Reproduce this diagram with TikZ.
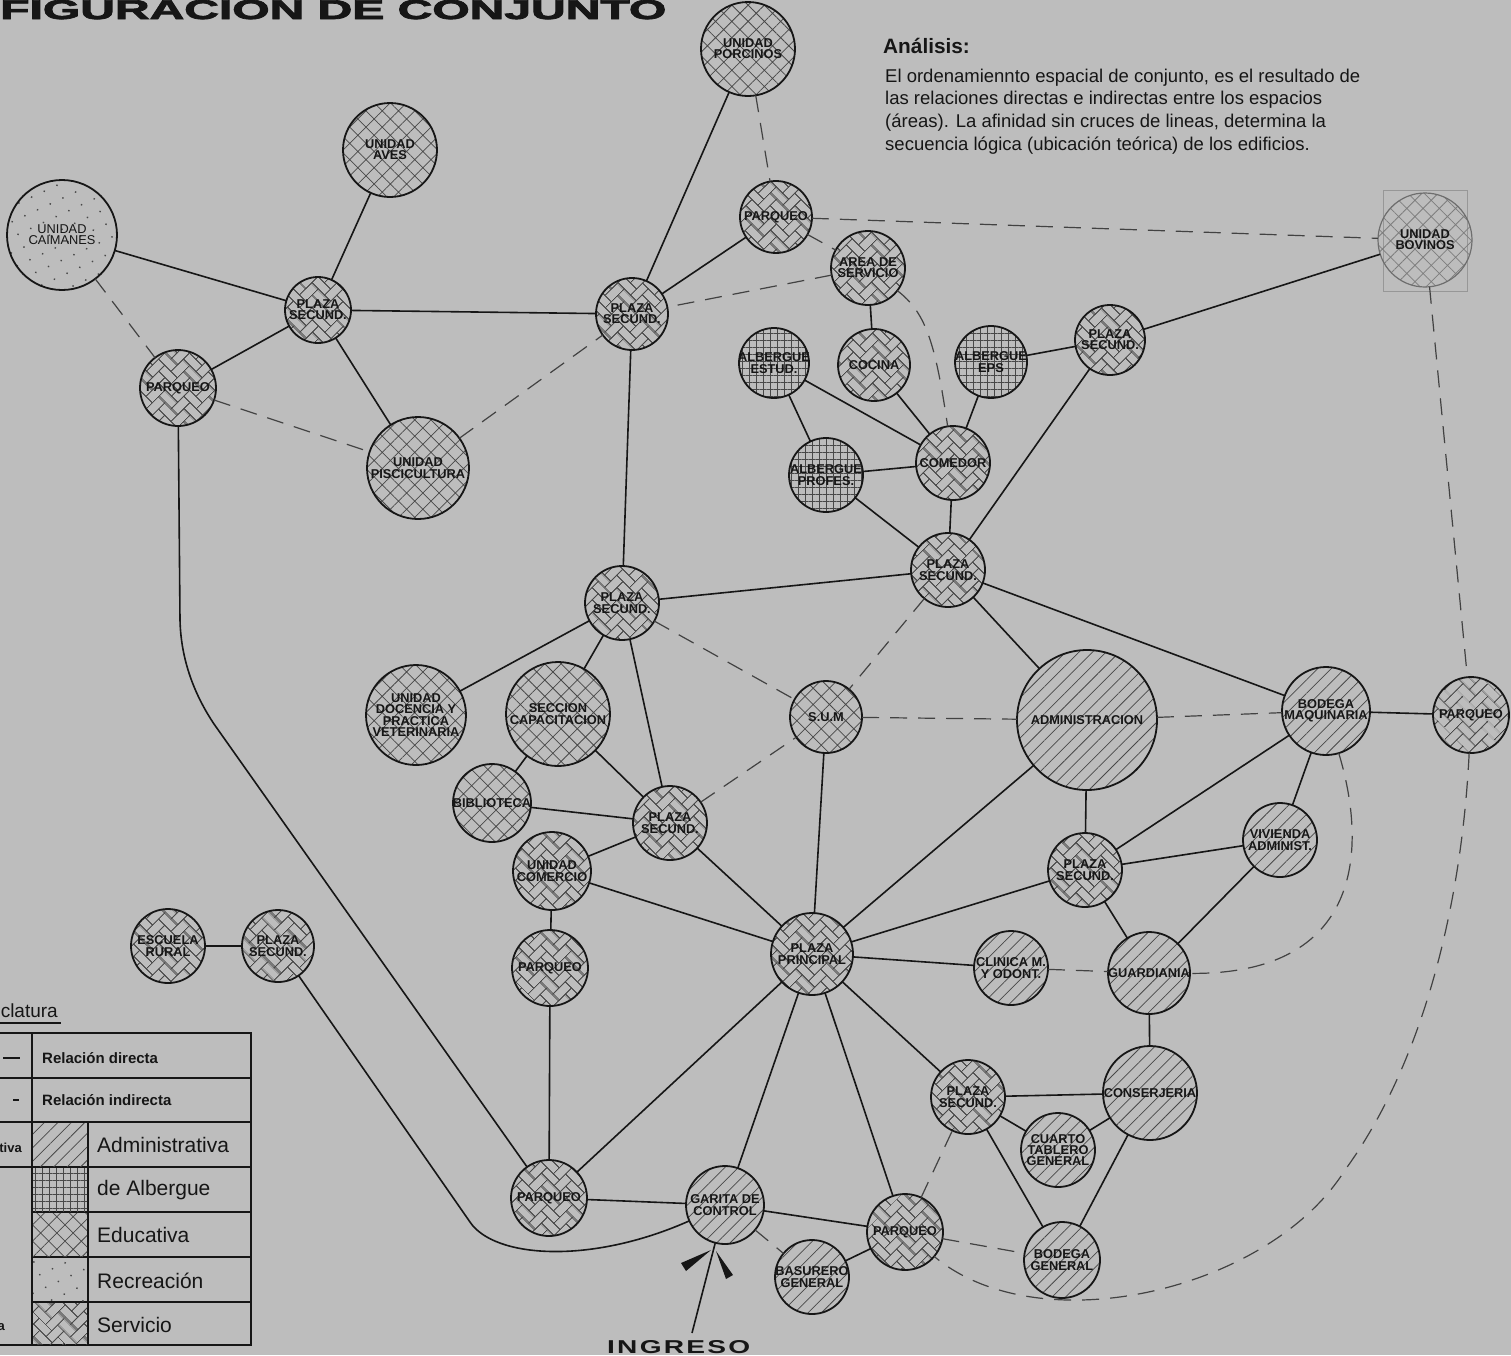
\documentclass[tikz,border=0pt]{standalone}
\usepackage{fontspec}
\setmainfont{Liberation Sans}
\newfontfamily\heavyfont{Liberation Sans Bold}[FakeBold=2.5]
\usepackage{graphicx}
\usetikzlibrary{patterns.meta}

\definecolor{paper}{RGB}{189,189,189}
\definecolor{ink}{RGB}{22,22,22}
\definecolor{hatchc}{RGB}{72,72,72}
\definecolor{dashc}{RGB}{66,66,66}
\definecolor{fadeink}{RGB}{110,110,110}
\definecolor{fadehatch}{RGB}{125,125,125}

% herringbone tile for the "Servicio" zones
\tikzdeclarepattern{
  name=herring,
  type=uncolored,
  bottom left={(0pt,0pt)},
  top right={(36pt,36pt)},
  tile size={(36pt,36pt)},
  tile transformation={rotate=45},
  code={
    \tikzset{x=9pt,y=9pt}
    \foreach \s in {-4,0,4}{
      \foreach \k in {-4,...,4}{
        \draw[line width=0.75pt] (\k+\s,\k) rectangle ++(2,1);
        \draw[line width=0.75pt] (\k+\s+2,\k-1) rectangle ++(1,2);
      }
    }
  }
}

\tikzset{
  unit/.style={circle, draw=ink, line width=1.8pt, inner sep=0pt, outer sep=0pt},
  padm/.style={pattern={Lines[angle=45,distance=9.5pt,line width=0.75pt]}, pattern color=hatchc},
  palb/.style={pattern={Hatch[angle=0,distance=7pt,line width=0.7pt]}, pattern color=hatchc},
  pedu/.style={pattern={Hatch[angle=45,distance=11.5pt,line width=0.75pt]}, pattern color=hatchc},
  prec/.style={pattern={Dots[angle=25,distance=14pt,radius=1pt]}, pattern color=hatchc},
  pser/.style={pattern=herring, pattern color=hatchc},
  lbl/.style={font=\fontsize{12.8}{11.3}\selectfont\bfseries, align=center, text=ink, inner sep=0pt},
  direct/.style={draw=ink, line width=1.6pt},
  indirect/.style={draw=dashc, line width=1.2pt, dash pattern=on 17pt off 11pt},
  legline/.style={draw=ink, line width=1.1pt},
}

% #1 name, #2 x, #3 y, #4 diameter, #5 zone style, #6 label
\newcommand\unitnode[6]{%
  \node[unit,#5,minimum size=#4pt] (#1) at (#2,#3) {};
  \node[lbl] (#1t) at (#1.center) {#6};
}

\begin{document}
\begin{tikzpicture}[x=1pt,y=-1pt]
\fill[paper] (0,0) rectangle (1511,1355);
\useasboundingbox (0,0) rectangle (1511,1355);

% ---------- headings ----------
\node[anchor=base west, inner sep=0pt, text=ink] (title) at (0,19)
  {\resizebox{666pt}{19pt}{\heavyfont FIGURACION DE CONJUNTO}};
\node[anchor=base west, inner sep=0pt, text=ink,
      font=\fontsize{20.8}{24}\selectfont\bfseries] (head) at (883,53) {Análisis:};
\node[anchor=base west, inner sep=0pt, text=ink,
      font=\fontsize{18.5}{22.7}\selectfont] (para) at (885,82)
  {\begin{tabular}[t]{@{}l@{}}
   El ordenamiennto espacial de conjunto, es el resultado de\\
   las relaciones directas e indirectas entre los espacios\\
   (áreas). La afinidad sin cruces de lineas, determina la\\
   secuencia lógica (ubicación teórica) de los edificios.
   \end{tabular}};

% ---------- zones ----------
\unitnode{pork}{748}{49}{94}{pedu}{UNIDAD\\PORCINOS}
\unitnode{aves}{390}{150}{94}{pedu}{UNIDAD\\AVES}
\unitnode{caim}{62}{235}{110}{prec}{\mdseries UNIDAD\\\mdseries CAIMANES}
\unitnode{plA}{318}{310}{66}{pser}{PLAZA\\SECUND.}
\unitnode{pqA}{178}{388}{76}{pser}{PARQUEO}
\unitnode{pisc}{418}{468}{102}{pedu}{UNIDAD\\PISCICULTURA}
\unitnode{pqB}{776}{217}{72}{pser}{PARQUEO}
\unitnode{area}{868}{268}{74}{pser}{AREA DE\\SERVICIO}
\unitnode{plB}{632}{314}{72}{pser}{PLAZA\\SECUND.}
\draw[fadehatch!60!paper, line width=0.8pt] (1383,190) rectangle (1467,291);
\unitnode{bov}{1425}{240}{94}{pedu, draw=fadeink, line width=1.2pt, pattern color=fadehatch}{UNIDAD\\BOVINOS}
\unitnode{albE}{774}{363}{70}{palb}{ALBERGUE\\ESTUD.}
\unitnode{coc}{874}{365}{72}{pser}{COCINA}
\unitnode{albS}{991}{362}{72}{palb}{ALBERGUE\\EPS}
\unitnode{plC}{1110}{340}{70}{pser}{PLAZA\\SECUND.}
\unitnode{com}{953}{463}{74}{pser}{COMEDOR}
\unitnode{albP}{826}{475}{74}{palb}{ALBERGUE\\PROFES.}
\unitnode{plD}{948}{570}{74}{pser}{PLAZA\\SECUND.}
\unitnode{plE}{622}{603}{74}{pser}{PLAZA\\SECUND.}
\unitnode{doc}{416}{715}{100}{pedu}{UNIDAD\\DOCENCIA Y\\PRACTICA\\VETERINARIA}
\unitnode{sec}{558}{714}{104}{pedu}{SECCION\\CAPACITACION}
\unitnode{sum}{826}{717}{72}{pedu}{S.U.M}
\unitnode{adm}{1087}{720}{140}{padm}{ADMINISTRACION}
\unitnode{bmaq}{1326}{711}{88}{padm}{BODEGA\\MAQUINARIA}
\unitnode{pqR}{1471}{715}{76}{pser}{PARQUEO}
\unitnode{bib}{492}{803}{78}{pedu}{BIBLIOTECA}
\unitnode{plF}{670}{823}{74}{pser}{PLAZA\\SECUND.}
\unitnode{ucom}{552}{871}{78}{pser}{UNIDAD\\COMERCIO}
\unitnode{viv}{1280}{840}{74}{padm}{VIVIENDA\\ADMINIST.}
\unitnode{plG}{1085}{870}{74}{pser}{PLAZA\\SECUND.}
\unitnode{esc}{168}{946}{74}{pser}{ESCUELA\\RURAL}
\unitnode{plH}{278}{946}{72}{pser}{PLAZA\\SECUND.}
\unitnode{pqC}{550}{968}{76}{pser}{PARQUEO}
\unitnode{plP}{812}{954}{82}{pser}{PLAZA\\PRINCIPAL}
\unitnode{cli}{1011}{968}{74}{padm}{CLINICA M.\\Y ODONT.}
\unitnode{gua}{1149}{973}{82}{padm}{GUARDIANIA}
\unitnode{plI}{968}{1097}{74}{pser}{PLAZA\\SECUND.}
\unitnode{con}{1150}{1093}{94}{padm}{CONSERJERIA}
\unitnode{cua}{1058}{1150}{74}{padm}{CUARTO\\TABLERO\\GENERAL}
\unitnode{pqD}{549}{1198}{76}{pser}{PARQUEO}
\unitnode{gar}{725}{1205}{78}{padm}{GARITA DE\\CONTROL}
\unitnode{pqE}{905}{1232}{76}{pser}{PARQUEO}
\unitnode{bas}{812}{1277}{74}{padm}{BASURERO\\GENERAL}
\unitnode{bgen}{1062}{1260}{76}{padm}{BODEGA\\GENERAL}

% ---------- direct relations ----------
\draw[direct] (caim) -- (plA);
\draw[direct] (aves) -- (plA);
\draw[direct] (plA) -- (pqA);
\draw[direct] (plA) -- (pisc);
\draw[direct] (plA) -- (plB);
\draw[direct] (pork) -- (plB);
\draw[direct] (pqB) -- (plB);
\draw[direct] (plB) -- (plE);
\draw[direct] (coc) -- (area);
\draw[direct] (coc) -- (com);
\draw[direct] (albE) -- (albP);
\draw[direct] (albE) -- (com);
\draw[direct] (albS) -- (com);
\draw[direct] (albS) -- (plC);
\draw[direct] (plC) -- (bov);
\draw[direct] (plC) -- (plD);
\draw[direct] (albP) -- (com);
\draw[direct] (albP) -- (plD);
\draw[direct] (com) -- (plD);
\draw[direct] (plE) -- (doc);
\draw[direct] (plE) -- (sec);
\draw[direct] (plE) -- (plF);
\draw[direct] (plE) -- (plD);
\draw[direct] (plD) -- (adm);
\draw[direct] (plD) -- (bmaq);
\draw[direct] (sec) -- (bib);
\draw[direct] (sec) -- (plF);
\draw[direct] (bib) -- (plF);
\draw[direct] (plF) -- (ucom);
\draw[direct] (plF) -- (plP);
\draw[direct] (ucom) -- (plP);
\draw[direct] (ucom) -- (pqC);
\draw[direct] (pqC) -- (pqD);
\draw[direct] (sum) -- (plP);
\draw[direct] (plP) -- (adm);
\draw[direct] (plP) -- (plG);
\draw[direct] (plP) -- (cli);
\draw[direct] (plP) -- (plI);
\draw[direct] (plP) -- (pqE);
\draw[direct] (plP) -- (gar);
\draw[direct] (plP) -- (pqD);
\draw[direct] (adm) -- (plG);
\draw[direct] (plG) -- (bmaq);
\draw[direct] (plG) -- (viv);
\draw[direct] (plG) -- (gua);
\draw[direct] (viv) -- (gua);
\draw[direct] (viv) -- (bmaq);
\draw[direct] (bmaq) -- (pqR);
\draw[direct] (gua) -- (con);
\draw[direct] (plI) -- (con);
\draw[direct] (plI) -- (cua);
\draw[direct] (plI) -- (bgen);
\draw[direct] (cua) -- (con);
\draw[direct] (con) -- (bgen);
\draw[direct] (pqD) -- (gar);
\draw[direct] (gar) -- (pqE);
\draw[direct] (pqE) -- (bas);
\draw[direct] (esc) -- (plH);
\draw[direct] (pqA) -- (180,620) .. controls (181,665) and (198,700) .. (214,724) -- (pqD);
\draw[direct] (plH) -- (470,1222) .. controls (494,1258) and (590,1265) .. (gar);

% ---------- indirect relations ----------
\draw[indirect] (caim) -- (pqA);
\draw[indirect] (pqA) -- (pisc);
\draw[indirect] (pisc) -- (plB);
\draw[indirect] (pork) -- (pqB);
\draw[indirect] (pqB) -- (area);
\draw[indirect] (pqB) -- (bov);
\draw[indirect] (area) -- (plB);
\draw[indirect] (area) .. controls (925,312) and (935,340) .. (com);
\draw[indirect] (plE) -- (sum);
\draw[indirect] (plF) -- (sum);
\draw[indirect] (plD) -- (sum);
\draw[indirect] (sum) -- (adm);
\draw[indirect] (adm) -- (bmaq);
\draw[indirect] (bmaq) .. controls (1368,850) and (1362,975) .. (gua);
\draw[indirect] (cli) -- (gua);
\draw[indirect] (bov) -- (pqR);
\draw[indirect] (pqR) .. controls (1462,900) and (1425,1060) .. (1345,1170)
                     .. controls (1270,1290) and (1040,1345) .. (pqE);
\draw[indirect] (pqE) -- (bgen);
\draw[indirect] (pqE) -- (plI);
\draw[indirect] (gar) -- (bas);

% ---------- entrance ----------
\coordinate (ing) at (692,1333);
\draw[direct] (ing) -- (gar);
\fill[ink] (711,1250) -- (681,1263) -- (686,1271) -- cycle;
\fill[ink] (716,1251) -- (726,1279) -- (733,1275) -- cycle;
\node[anchor=base west, inner sep=0pt, text=ink] (ingreso) at (607,1353)
  {\resizebox{143pt}{13pt}{\addfontfeatures{LetterSpace=8}\bfseries INGRESO}};

% ---------- legend ----------
\node[anchor=base east, inner sep=0pt, text=ink, font=\fontsize{19}{20}\selectfont] (legt) at (58,1017) {clatura};
\draw[legline] (-2,1023) -- (61,1023);
\draw[legline] (-5,1033) rectangle (251,1345);
\draw[legline] (32,1033) -- (32,1345);
\draw[legline] (88,1122) -- (88,1345);
\draw[legline] (-5,1078) -- (251,1078);
\draw[legline] (-5,1122) -- (251,1122);
\draw[legline] (-5,1167) -- (251,1167);
\draw[legline] (32,1212) -- (251,1212);
\draw[legline] (32,1257) -- (251,1257);
\draw[legline] (32,1302) -- (251,1302);
\draw[direct] (3,1058) -- (20,1058);
\draw[direct] (13,1100) -- (19,1100);
\path[padm] (33,1123) rectangle (87,1166);
\path[palb] (33,1168) rectangle (87,1211);
\path[pedu] (33,1213) rectangle (87,1256);
\path[prec] (33,1258) rectangle (87,1301);
\path[pser] (33,1303) rectangle (87,1344);
\begin{scope}[every node/.style={anchor=base west, inner sep=0pt, text=ink}]
  \node[font=\fontsize{15}{15}\selectfont\bfseries] (lg1) at (42,1063) {Relación directa};
  \node[font=\fontsize{15}{15}\selectfont\bfseries] (lg2) at (42,1105) {Relación indirecta};
  \node[font=\fontsize{21}{21}\selectfont] (lg3) at (97,1152) {Administrativa};
  \node[font=\fontsize{21}{21}\selectfont] (lg4) at (97,1195) {de Albergue};
  \node[font=\fontsize{21}{21}\selectfont] (lg5) at (97,1242) {Educativa};
  \node[font=\fontsize{21}{21}\selectfont] (lg6) at (97,1288) {Recreación};
  \node[font=\fontsize{21}{21}\selectfont] (lg7) at (97,1332) {Servicio};
\end{scope}
\node[anchor=base east, inner sep=0pt, text=ink, font=\fontsize{13}{13}\selectfont\bfseries] (lg8) at (22,1152) {tiva};
\node[anchor=base east, inner sep=0pt, text=ink, font=\fontsize{13}{13}\selectfont\bfseries] (lg9) at (5,1330) {a};
\end{tikzpicture}
\end{document}
